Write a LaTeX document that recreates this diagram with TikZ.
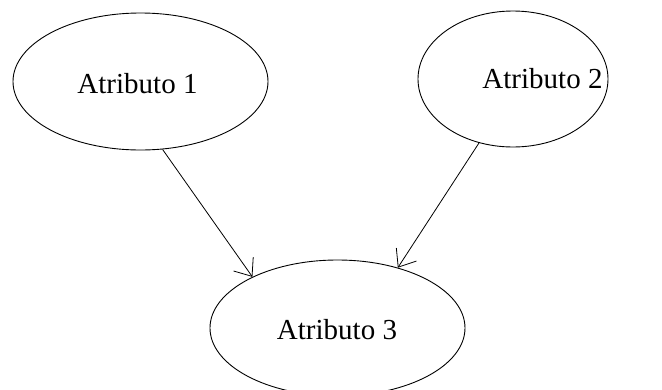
\documentclass[tikz,border=0pt]{standalone}
\usepackage{fontspec}
\setmainfont{Liberation Serif}
\usetikzlibrary{shapes.geometric,arrows.meta}
\begin{document}
\begin{tikzpicture}[x=1pt,y=-1pt,
  attr/.style={draw, ellipse, line width=0.9pt, inner sep=0pt},
  lbl/.style={anchor=base, inner sep=0pt, font=\fontsize{29}{32}\selectfont},
  link/.style={line width=0.8pt, -{Straight Barb[length=15pt,width=24pt,line width=0.8pt]}}]
  \useasboundingbox (0,0) rectangle (662,389);
  \clip (0,0) rectangle (662,389);
  % attribute ellipses
  \node[attr, minimum width=255pt, minimum height=137pt] (a1) at (140.5,81.5) {};
  \node[attr, minimum width=190pt, minimum height=136pt] (a2) at (513,79) {};
  \node[attr, minimum width=255pt, minimum height=136pt] (a3) at (337.5,328) {};
  % labels
  \node[lbl] (t1) at (137.5,93) {Atributo 1};
  \node[lbl] (t2) at (542.5,88) {Atributo 2};
  \node[lbl] (t3) at (337,339) {Atributo 3};
  % links
  \draw[link] (a1.-72.3) -- (a3.149.8);
  \draw[link] (a2.-118.5) -- (a3.45.2);
\end{tikzpicture}
\end{document}
